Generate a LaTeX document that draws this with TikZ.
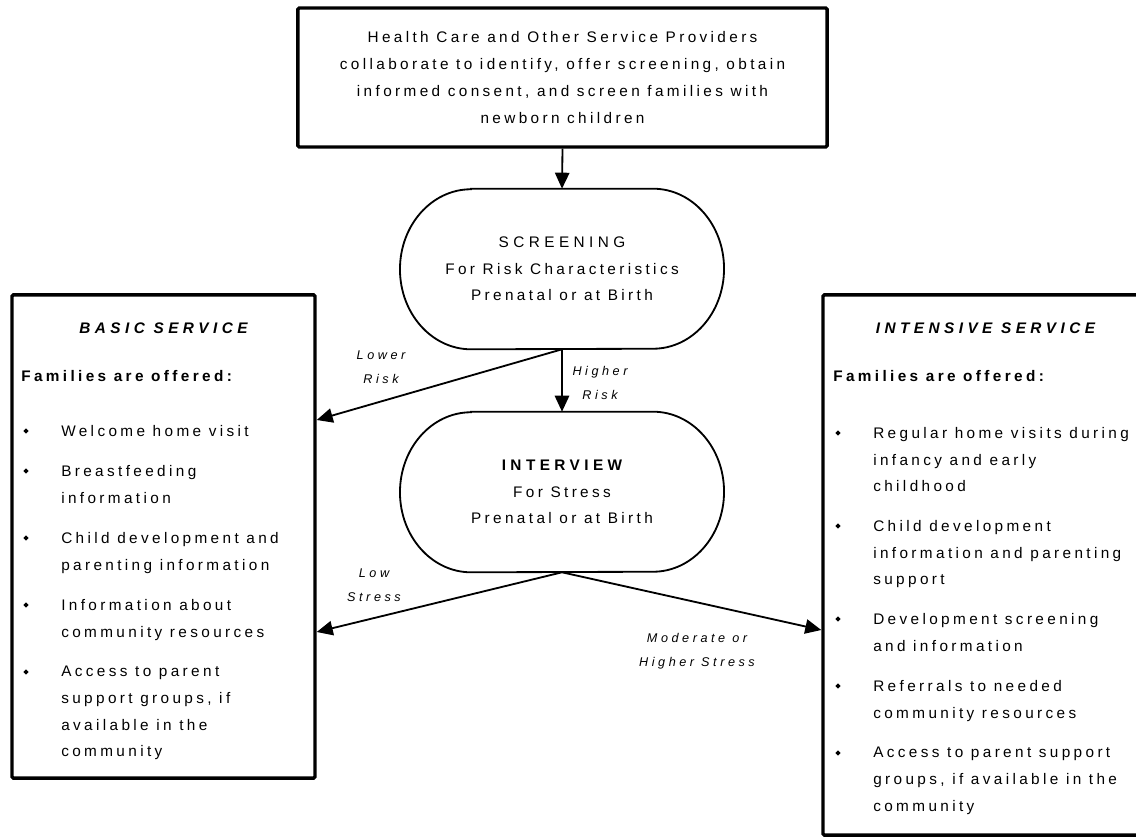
\documentclass[tikz,border=0pt]{standalone}
\usepackage{fontspec}
\setmainfont{Liberation Sans}
\usetikzlibrary{arrows.meta,positioning,shapes.geometric}
\newfontfamily\bodyfont[LetterSpace=22]{Liberation Sans}
\newfontfamily\capsfont[LetterSpace=29]{Liberation Sans}
\newfontfamily\labelfont[LetterSpace=28]{Liberation Sans}
\newcommand\bodysize{\fontsize{10.9}{19}\selectfont}
\newcommand\labelsize{\fontsize{9}{17}\selectfont}

\tikzset{
  bigbox/.style={draw, line width=2.4pt, rounded corners=1pt, inner sep=0pt},
  shapeline/.style={line width=1.3pt},
  flow/.style={->, line width=1.3pt},
  body/.style={font=\bodyfont\bodysize, inner sep=0pt},
  item/.style={body, anchor=north west, align=left},
  boxtitle/.style={inner sep=0pt, anchor=base, font=\capsfont\bfseries\itshape\bodysize},
  offered/.style={inner sep=0pt, anchor=base west, font=\bodyfont\bfseries\bodysize},
  bullet/.style={diamond, fill, inner sep=0pt, minimum size=0.14cm},
  arrowlabel/.style={font=\labelfont\itshape\labelsize, inner sep=0pt,
    anchor=north, align=center}
}

\begin{document}
\begin{tikzpicture}[x=0.025cm,y=-0.025cm,>={Triangle[length=0.4cm,width=0.36cm]}]
\useasboundingbox (0,0) rectangle (1136,839);
\clip (0,0) rectangle (1136,839);

% providers at the top
\node[bigbox, body, align=center, minimum width=13.225cm, minimum height=3.475cm] (providers) at (562.5,77.5)
  {Health Care and Other Service Providers\\collaborate to identify, offer screening, obtain\\informed consent, and screen families with\\newborn children};

% screening and interview
\node[body, align=center, minimum width=8.1cm, minimum height=4cm] (screen) at (562,269)
  {{\capsfont SCREENING}\\For Risk Characteristics\\Prenatal or at Birth};
\node[body, align=center, minimum width=8.1cm, minimum height=4cm] (interview) at (562,492)
  {{\capsfont\bfseries INTERVIEW}\\For Stress\\Prenatal or at Birth};
\foreach \n in {screen,interview}
  \draw[shapeline] ([xshift=-2.275cm]\n.north) -- ([xshift=2.275cm]\n.north)
    arc[start angle=90,end angle=-90,x radius=1.775cm,y radius=2cm]
    -- ([xshift=-2.275cm]\n.south)
    arc[start angle=270,end angle=90,x radius=1.775cm,y radius=2cm] -- cycle;

% basic service
\node[bigbox, minimum width=7.575cm, minimum height=12.075cm] (basic) at (163.5,536.5) {};
\node[boxtitle] (basictitle) at (163.5,333) {BASIC SERVICE};
\node[offered] (basicoffer) at (21,381) {Families are offered:};
\foreach \y/\t [count=\i] in {436/{Welcome home visit}, 476/{Breastfeeding\\information},
    543/{Child development and\\parenting information}, 610/{Information about\\community resources},
    677/{Access to parent\\support groups, if\\available in the\\community}}{
  \node[bullet] (basicdot\i) at (26,\y-5) {};
  \node[item] (basicitem\i) at (61,\y-11) {\t};
}

% intensive service
\node[bigbox, minimum width=8.125cm, minimum height=13.5cm] (intense) at (985.5,565) {};
\node[boxtitle] (intensetitle) at (985.5,333) {INTENSIVE SERVICE};
\node[offered] (intenseoffer) at (833,381) {Families are offered:};
\foreach \y/\t [count=\i] in {438/{Regular home visits during\\infancy and early\\childhood},
    531/{Child development\\information and parenting\\support}, 624/{Development screening\\and information},
    691/{Referrals to needed\\community resources},
    758/{Access to parent support\\groups, if available in the\\community}}{
  \node[bullet] (intensedot\i) at (838,\y-5) {};
  \node[item] (intenseitem\i) at (873,\y-11) {\t};
}

% connectors
\draw[flow] (providers.south) -- (screen.north);
\draw[flow] (screen.south) -- (basic.east |- 0,420);
\draw[flow] (screen.south) -- (interview.north);
\draw[flow] (interview.south) -- (basic.east |- 0,632);
\draw[flow] (interview.south) -- (intense.west |- 0,630);

\node[arrowlabel] (lowerrisk) at (381,351) {Lower\\Risk};
\node[arrowlabel] (higherrisk) at (600,366) {Higher\\Risk};
\node[arrowlabel] (lowstress) at (374,569) {Low\\Stress};
\node[arrowlabel] (modstress) at (697,633) {Moderate or\\Higher Stress};
\end{tikzpicture}
\end{document}
